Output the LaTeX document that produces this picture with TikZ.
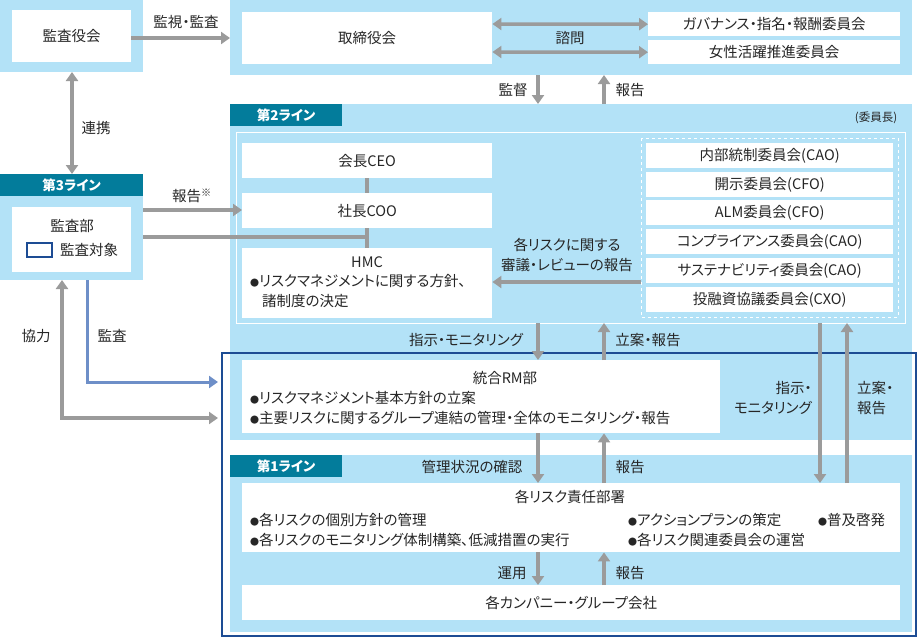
\documentclass[tikz,border=0pt]{standalone}
\usepackage{fontspec}
\setmainfont{Noto Sans CJK JP}[RawFeature=+palt]
\usetikzlibrary{arrows.meta}
\definecolor{lblue}{HTML}{B3E2F7}
\definecolor{teal}{HTML}{037C9B}
\definecolor{navy}{HTML}{1D4C94}
\definecolor{agray}{HTML}{9B9B9B}
\definecolor{ablue}{HTML}{6E8FC8}
\newcommand{\bul}{{\fontsize{9}{9}\selectfont ●}}
\tikzset{
  wbox/.style={fill=white,anchor=north west,inner sep=0pt},
  lbox/.style={fill=lblue,anchor=north west,inner sep=0pt},
  hdr/.style={fill=teal,text=white,anchor=north west,inner sep=0pt,font=\fontsize{13.5}{15}\selectfont\bfseries},
  txt/.style={font=\fontsize{14.5}{16}\selectfont,inner sep=0pt,text=black!85},
  arr/.style={draw=agray,line width=3.5pt,-{Triangle[width=12pt,length=9pt]}},
  darr/.style={draw=agray,line width=3.5pt,{Triangle[width=12pt,length=9pt]}-{Triangle[width=12pt,length=9pt]}},
  gline/.style={draw=agray,line width=3.5pt}
}
\begin{document}
\begin{tikzpicture}[x=1pt,y=-1pt,txt]
\useasboundingbox (0,0) rectangle (920,640);
% backgrounds
\node[lbox,minimum width=143,minimum height=72] (kansa) at (0,0) {};
\node[lbox,minimum width=682,minimum height=75] (top) at (230,0) {};
\node[lbox,minimum width=682,minimum height=336] (line2) at (230,104) {};
\node[lbox,minimum width=682,minimum height=177] (line1) at (230,455) {};
\node[lbox,minimum width=143,minimum height=84] (line3) at (0,196) {};
\node[hdr,minimum width=112,minimum height=22] (h2) at (230,104) {第2ライン};
\node[hdr,minimum width=112,minimum height=22] (h1) at (230,455) {第1ライン};
\node[hdr,minimum width=143,minimum height=22] (h3) at (0,174) {第3ライン};
\draw[white,line width=1pt] (236,132) rectangle (905,323);
\draw[white,line width=1pt,dashed] (641,138) rectangle (898,317);
\draw[navy,line width=2pt] (222,353) rectangle (916,636);
\node[txt,font=\fontsize{11.5}{12}\selectfont] (iin) at (876,118) {(委員長)};
% white boxes
\node[wbox,minimum width=119,minimum height=52] (kyk) at (12,10) {};
\node[txt] at (kyk) {監査役会};
\node[wbox,minimum width=250,minimum height=52] (trs) at (242,12) {};
\node[txt] at (trs) {取締役会};
\node[wbox,minimum width=252,minimum height=24] (gov) at (648,12) {};
\node[txt] at (gov) {ガバナンス・指名・報酬委員会};
\node[wbox,minimum width=252,minimum height=24] (jos) at (648,40) {};
\node[txt] at (jos) {女性活躍推進委員会};
\node[wbox,minimum width=119,minimum height=65] (kbu) at (12,207) {};
\node[txt] at (72,226) {監査部};
\draw[navy,line width=2pt] (27,243) rectangle (52,257);
\node[txt,anchor=west] at (60,250) {監査対象};
\node[wbox,minimum width=250,minimum height=35] (ceo) at (242,143) {};
\node[txt] at (ceo) {会長CEO};
\node[wbox,minimum width=250,minimum height=35] (coo) at (242,193) {};
\node[txt] at (coo) {社長COO};
\node[wbox,minimum width=250,minimum height=70] (hmc) at (242,248) {};
\node[txt] at (367,262) {HMC};
\node[txt,anchor=west] at (250,281) {\bul リスクマネジメントに関する方針、};
\node[txt,anchor=west] at (262,301) {諸制度の決定};
\foreach \y/\t [count=\i] in {143/内部統制委員会(CAO),172/開示委員会(CFO),200/ALM委員会(CFO),229/コンプライアンス委員会(CAO),258/サステナビリティ委員会(CAO),287/投融資協議委員会(CXO)}{
  \node[wbox,minimum width=247,minimum height=25] (c\i) at (646,\y) {};
  \node[txt] at (c\i) {\t};
}
\node[wbox,minimum width=478,minimum height=73] (rm) at (242,360) {};
\node[txt] at (505,378) {統合RM部};
\node[txt,anchor=west] at (250,398) {\bul リスクマネジメント基本方針の立案};
\node[txt,anchor=west] at (250,418) {\bul 主要リスクに関するグループ連結の管理・全体のモニタリング・報告};
\node[wbox,minimum width=658,minimum height=69] (bs) at (242,483) {};
\node[txt] at (570,497) {各リスク責任部署};
\node[txt,anchor=west] at (250,520) {\bul 各リスクの個別方針の管理};
\node[txt,anchor=west] at (250,540) {\bul 各リスクのモニタリング体制構築、低減措置の実行};
\node[txt,anchor=west] at (628,520) {\bul アクションプランの策定};
\node[txt,anchor=west] at (628,540) {\bul 各リスク関連委員会の運営};
\node[txt,anchor=west] at (818,520) {\bul 普及啓発};
\node[wbox,minimum width=658,minimum height=35] (grp) at (242,585) {};
\node[txt] at (grp) {各カンパニー・グループ会社};
% connectors
\draw[arr] (kyk.east |- 0,38) -- (top.west |- 0,38);
\node[txt] at (186,22) {監視・監査};
\draw[darr] (trs.east |- 0,24) -- (gov.west);
\draw[darr] (trs.east |- 0,52) -- (jos.west);
\node[txt] at (570,38) {諮問};
\draw[arr] (538,75) -- (538,104);
\draw[arr] (604,104) -- (604,75);
\node[txt] at (513,90) {監督};
\node[txt] at (630,90) {報告};
\draw[darr] (72,72) -- (72,174);
\node[txt] at (96,128) {連携};
\draw[arr] (143,210) -- (coo.west |- 0,210);
\node[txt] at (192,196) {報告\textsuperscript{※}};
\draw[gline] (ceo.south -| 367,0) -- (coo.north -| 367,0);
\draw[gline] (coo.south -| 367,0) -- (hmc.north -| 367,0);
\draw[gline] (143,237) -- (367,237);
\draw[arr] (641,282) -- (hmc.east |- 0,282);
\node[txt] at (567,245) {各リスクに関する};
\node[txt] at (567,265) {審議・レビューの報告};
\draw[arr] (538,323) -- (rm.north -| 538,0);
\draw[arr] (rm.north -| 604,0) -- (604,323);
\node[txt] at (466,340) {指示・モニタリング};
\node[txt] at (648,340) {立案・報告};
\draw[arr] (62,418) -- (218,418);
\draw[arr] (62,419.75) -- (62,280);
\node[txt] at (36,336) {協力};
\draw[draw=ablue,line width=3pt,-{Triangle[width=12pt,length=9pt]}] (87,280) -- (87,382) -- (218,382);
\node[txt] at (112,336) {監査};
\draw[arr] (820,323) -- (820,483);
\draw[arr] (847,483) -- (847,323);
\node[txt,anchor=east] at (812,388) {指示・};
\node[txt,anchor=east] at (812,408) {モニタリング};
\node[txt,anchor=west] at (857,388) {立案・};
\node[txt,anchor=west] at (857,408) {報告};
\draw[arr] (rm.south -| 538,0) -- (bs.north -| 538,0);
\draw[arr] (bs.north -| 604,0) -- (rm.south -| 604,0);
\node[txt] at (472,467) {管理状況の確認};
\node[txt] at (630,467) {報告};
\draw[arr] (bs.south -| 538,0) -- (grp.north -| 538,0);
\draw[arr] (grp.north -| 604,0) -- (bs.south -| 604,0);
\node[txt] at (512,573) {運用};
\node[txt] at (630,573) {報告};
\end{tikzpicture}
\end{document}
